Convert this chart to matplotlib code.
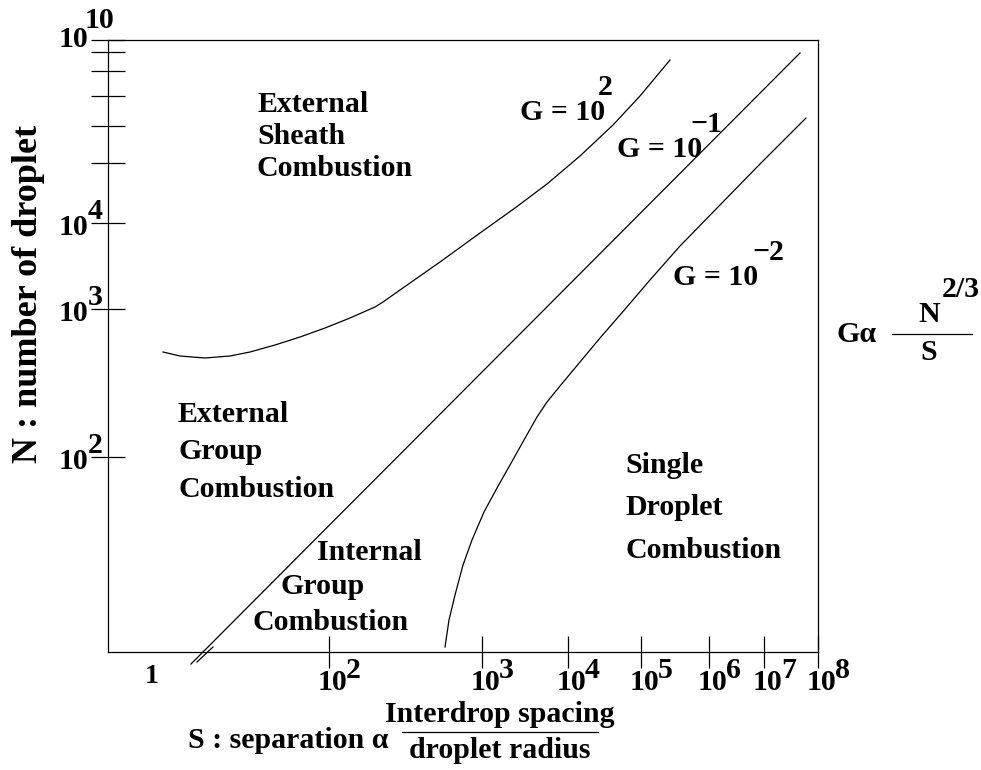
import matplotlib
matplotlib.use("Agg")
import matplotlib.pyplot as plt
from matplotlib.lines import Line2D

FONT = "Liberation Serif"
plt.rcParams["font.family"] = [FONT, "DejaVu Serif"]
plt.rcParams["font.weight"] = "bold"
FS = 21.5

# ---------------- data (schematic diagram, axis units) ----------------
x_tick_pos = [221, 374, 460, 533, 601, 656, 710]
x_tick_exp = ["2", "3", "4", "5", "6", "7", "8"]
x_one_pos = 44
y_tick_pos = [195, 343, 429, 489, 526, 556, 581, 600, 612]
y_tick_exp = ["2", "3", "4", "", "", "", "", "", "10"]

# G = 10^2 boundary
g_high_x = [55, 72, 97, 122, 142, 167, 192, 217, 242, 267, 275, 292, 332, 372,
            407, 439, 472, 505, 532, 562]
g_high_y = [300, 296, 294, 296, 300, 307, 315, 324, 334, 345, 350, 362, 390, 419,
            444, 468, 496, 527, 556, 592]
# G = 10^-1 boundary
g_mid_x = [83, 692]
g_mid_y = [-12, 599]
g_break_x = [89, 105]
g_break_y = [-10, 5]
# G = 10^-2 boundary
g_low_x = [337, 341, 347, 355, 364, 376, 389, 402, 416, 429, 439, 452, 472, 492,
           512, 542, 572, 612, 652, 698]
g_low_y = [5, 32, 57, 87, 112, 140, 164, 187, 212, 235, 250, 266, 290, 314,
           337, 372, 406, 447, 488, 534]

W, H = 981, 770
fig = plt.figure(figsize=(W / 100, H / 100), dpi=100)
L, R, T, B = 108, 818, 40, 652
ax = fig.add_axes([L / W, 1 - B / H, (R - L) / W, (B - T) / H])
ax.set_xlim(0, 710)
ax.set_ylim(0, 612)

for s in ax.spines.values():
    s.set_linewidth(0.9)

ax.set_xticks(x_tick_pos)
ax.set_yticks(y_tick_pos)
ax.set_xticklabels([])
ax.set_yticklabels([])
ax.tick_params(axis="x", direction="inout", length=23, width=0.9)
ax.tick_params(axis="y", direction="inout", length=24, width=0.9)

# curves
kw = dict(color="black", lw=0.9, clip_on=False)
ax.plot(g_high_x, g_high_y, **kw)
ax.plot(g_mid_x, g_mid_y, **kw)
ax.plot(g_break_x, g_break_y, **kw)
ax.plot(g_low_x, g_low_y, **kw)

tk = dict(fontsize=FS, fontweight="bold", textcoords="offset pixels", va="baseline",
          annotation_clip=False)

# x tick labels
for pos, e in zip(x_tick_pos, x_tick_exp):
    ax.annotate("10", xy=(pos, 0), xytext=(3, -38), ha="center", **tk)
    ax.annotate(e, xy=(pos, 0), xytext=(17, -26), ha="left", **tk)
ax.annotate("1", xy=(x_one_pos, 0), xytext=(0, -31), ha="center",
            **{**tk, "fontsize": 20})

# y tick labels
for pos, e in zip(y_tick_pos, y_tick_exp):
    if not e:
        continue
    if e == "10":
        db, de, xe = -7, 12, -23
    else:
        db, de, xe = -12, 4, -20
    ax.annotate("10", xy=(0, pos), xytext=(-20, db), ha="right", **tk)
    ax.annotate(e, xy=(0, pos), xytext=(xe, de), ha="left", **tk)

# region labels
txt = dict(fontsize=FS, fontweight="bold", va="baseline", ha="left")
regions = [
    ("External", 149, 540), ("Sheath", 149, 508), ("Combustion", 149, 476),
    ("External", 70, 230), ("Group", 70, 193), ("Combustion", 70, 155),
    ("Internal", 209, 92), ("Group", 172, 58), ("Combustion", 144, 22),
    ("Single", 517, 179), ("Droplet", 517, 137), ("Combustion", 517, 94),
]
for s, x, y in regions:
    ax.text(x, y, s, **txt)

glabels = [
    ("G = 10", 412, 532, "2", 490, 557),
    ("G = 10", 509, 495, "\u22121", 582, 520),
    ("G = 10", 565, 367, "\u22122", 644, 392),
]
for s, x, y, e, xe, ye in glabels:
    ax.text(x, y, s, **txt)
    ax.text(xe, ye, e, **txt)


def P(px, py):
    return px / W, 1 - py / H


def ftext(px, py, s, ha="left", **k):
    fig.text(*P(px, py), s, fontsize=FS, fontweight="bold", ha=ha, va="baseline", **k)


def fline(x1, x2, y):
    a, b = P(x1, y), P(x2, y)
    fig.add_artist(Line2D([a[0], b[0]], [a[1], b[1]], transform=fig.transFigure,
                          color="black", lw=0.9))


# x axis label
ftext(188, 748, "S : separation \u03b1")
fline(402, 598, 732)
ftext(500, 722, "Interdrop spacing", ha="center")
ftext(500, 758, "droplet radius", ha="center")

# y axis label
fig.text(*P(29, 294), "N : number of droplet", fontsize=26, fontweight="bold",
         rotation=90, ha="center", va="center")

# formula on the right
ftext(837, 342, "G\u03b1")
fline(892, 972, 334)
ftext(918, 322, "N")
ftext(942, 297, "2/3")
ftext(920, 360, "S")

fig.savefig("out.png", dpi=100)
